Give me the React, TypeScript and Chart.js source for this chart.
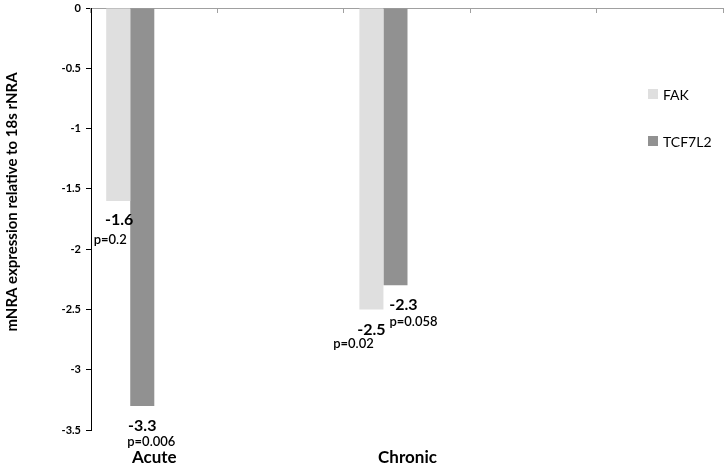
import React, { useEffect, useRef } from "react";
import { Chart, registerables } from "chart.js";

Chart.register(...registerables);

// ---- data ----
const categories = ["Acute", "", "Chronic", "", ""];
const fakValues = [-1.6, null, -2.5, null, null];
const tcfValues = [-3.3, null, -2.3, null, null];
const emptySeries = [null, null, null, null, null];
const fakPValues = ["p=0.2", null, "p=0.02", null, null];
const tcfPValues = ["p=0.006", null, "p=0.058", null, null];
const yTitle = "mNRA expression relative to 18s rNRA";

// ---- layout / style (not data) ----
const FONT = "Lato, 'Open Sans', sans-serif";
const COLORS = ["#dfdfdf", "#919191"];
// per-label offsets relative to (bar centre x, bar end y): [valueDx, valueDy, pDx, pDy]
const LABEL_OFFSETS: Record<string, number[]> = {
  "0-0": [1, 19, -8, 39],
  "0-2": [0, 20, -18, 34],
  "1-0": [0, 20, 9, 36],
  "1-2": [8, 20, 18, 36],
};

const annotatePlugin = {
  id: "annotate",
  afterDraw(chart: any) {
    const ctx = chart.ctx;
    const pLists = [fakPValues, tcfPValues];
    ctx.save();
    ctx.textAlign = "center";
    ctx.textBaseline = "middle";
    ctx.fillStyle = "#000";
    [0, 1].forEach((di) => {
      const meta = chart.getDatasetMeta(di);
      const ds = chart.data.datasets[di];
      ds.data.forEach((v: any, j: number) => {
        if (v === null || v === undefined) return;
        const el = meta.data[j];
        const off = LABEL_OFFSETS[`${di}-${j}`] || [0, 20, 0, 36];
        ctx.font = `bold 16px ${FONT}`;
        ctx.fillText(Number(v).toFixed(1), el.x + off[0], el.y + off[1]);
        const p = pLists[di][j];
        if (p) {
          ctx.font = `600 13px ${FONT}`;
          ctx.fillText(p, el.x + off[2], el.y + off[3]);
        }
      });
    });
    // legend
    ctx.textAlign = "left";
    const legendY = [94, 141];
    [0, 1].forEach((di) => {
      const ds = chart.data.datasets[di];
      ctx.fillStyle = ds.backgroundColor;
      ctx.fillRect(648, legendY[di] - 5, 10, 10);
      ctx.fillStyle = "#000";
      ctx.font = `14px ${FONT}`;
      ctx.fillText(ds.label, 663, legendY[di] + 1);
    });
    // y title
    ctx.translate(12, 202);
    ctx.rotate(-Math.PI / 2);
    ctx.textAlign = "center";
    ctx.font = `bold 15px ${FONT}`;
    ctx.fillText(yTitle, 0, 0);
    ctx.restore();
  },
};

const topTicksPlugin = {
  id: "topTicks",
  afterDraw(chart: any) {
    const sx = chart.scales.x;
    const ctx = chart.ctx;
    const n = sx.ticks.length;
    const top = chart.chartArea.top;
    ctx.save();
    ctx.strokeStyle = "#a0a0a0";
    ctx.lineWidth = 1;
    for (let i = 0; i <= n; i++) {
      const px =
        i < n ? sx.getPixelForTick(i) - sx._length / n / 2 : sx.right;
      const xx = Math.round(px) - 0.5;
      ctx.beginPath();
      ctx.moveTo(xx, top);
      ctx.lineTo(xx, top + 5);
      ctx.stroke();
    }
    ctx.restore();
  },
};

export default function App() {
  const ref = useRef<HTMLCanvasElement>(null);
  useEffect(() => {
    document.body.style.margin = "0";
    const chart = new Chart(ref.current!, {
      type: "bar",
      data: {
        labels: categories,
        datasets: [
          { label: "FAK", data: fakValues, backgroundColor: COLORS[0] },
          { label: "TCF7L2", data: tcfValues, backgroundColor: COLORS[1] },
          { label: "series3", data: emptySeries, backgroundColor: "#fff" },
          { label: "series4", data: emptySeries, backgroundColor: "#fff" },
        ] as any,
      },
      options: {
        responsive: false,
        animation: false,
        maintainAspectRatio: false,
        layout: { padding: 0 },
        datasets: { bar: { categoryPercentage: 0.76, barPercentage: 1 } },
        plugins: { legend: { display: false }, tooltip: { enabled: false } },
        scales: {
          x: {
            type: "category",
            position: "top",
            offset: true,
            grid: { display: false, drawTicks: false },
            border: { display: true, color: "#a0a0a0" },
            ticks: { display: false },
            afterFit: (s: any) => {
              s.height = 8;
            },
          },
          x2: {
            type: "category",
            labels: categories,
            position: "bottom",
            offset: true,
            grid: { display: false, drawTicks: false },
            border: { display: false },
            ticks: {
              color: "#000",
              font: { family: FONT, size: 17, weight: "bold" },
              padding: 17,
              autoSkip: false,
              maxRotation: 0,
            },
            afterFit: (s: any) => {
              s.height = 38;
            },
          },
          y: {
            min: -3.5,
            max: 0,
            ticks: {
              stepSize: 0.5,
              color: "#000",
              font: { family: FONT, size: 11, weight: "bold" },
              padding: 5,
              callback: (v: any) => String(Math.round(Number(v) * 10) / 10),
            },
            grid: {
              drawOnChartArea: false,
              drawTicks: true,
              tickLength: 5,
              color: "#000",
            },
            border: { display: true, color: "#000" },
            afterFit: (s: any) => {
              s.width = 91;
              s.paddingTop = 0;
              s.paddingBottom = 0;
            },
          },
        } as any,
      },
      plugins: [annotatePlugin, topTicksPlugin],
    });
    console.log(JSON.stringify(chart.chartArea));
    return () => chart.destroy();
  }, []);
  return (
    <div style={{ width: 724, height: 468 }}>
      <canvas ref={ref} width={724} height={468} />
    </div>
  );
}
